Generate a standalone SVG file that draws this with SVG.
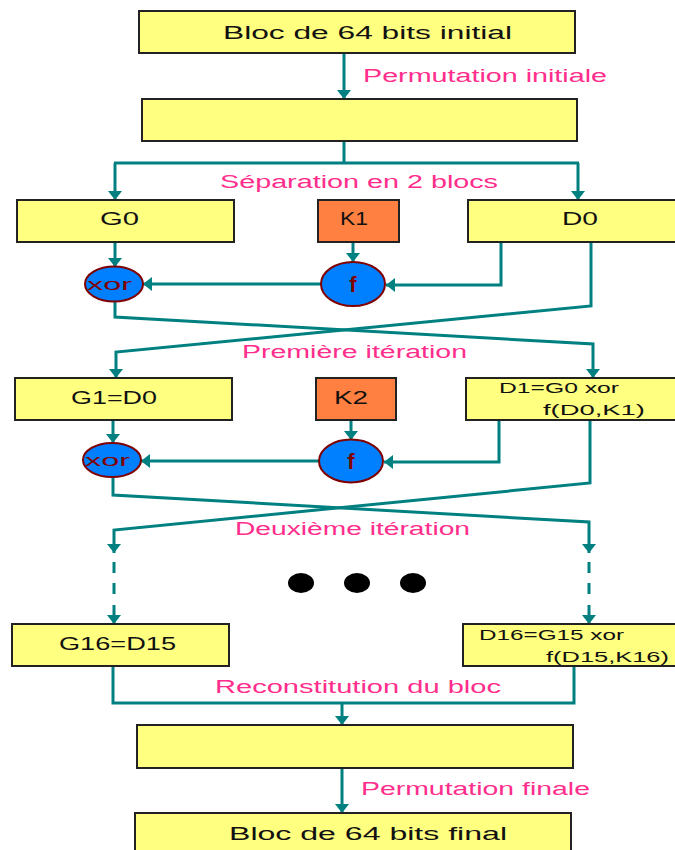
<svg xmlns="http://www.w3.org/2000/svg" width="675" height="850" viewBox="0 0 675 850">
  <style>
    .blk { fill: #FFFF80; stroke: #222; stroke-width: 2; }
    .key { fill: #FF8040; stroke: #222; stroke-width: 2; }
    .op { fill: #0080FF; stroke: #800000; stroke-width: 2; }
    .lbl { font-family: "Liberation Sans", "DejaVu Sans", sans-serif; font-size: 18px; fill: #111; }
    .sm { font-size: 15px; }
    .opt { font-family: "Liberation Sans", "DejaVu Sans", sans-serif; fill: #800000; }
    .step { font-family: "Liberation Sans", Arial, sans-serif; font-size: 18px; fill: #FF2D8C; }
    .wire { fill: none; stroke: #008080; stroke-width: 3; }
    .arr { marker-end: url(#head); }
    .dash { stroke-dasharray: 11 10; }
  </style>
  <defs>
    <marker id="head" viewBox="0 0 9 14" refX="9" refY="7" markerWidth="9" markerHeight="14" markerUnits="userSpaceOnUse" orient="auto">
      <path d="M0,0 L9,7 L0,14 z" fill="#008080"/>
    </marker>
  </defs>

  <rect width="675" height="850" fill="#fff"/>

  <!-- connectors -->
  <g id="connectors">
    <path class="wire arr" d="M344,53 V99"/>
    <path class="wire" d="M344,141 V163 M114,163 H579"/>
    <path class="wire arr" d="M115,163 V200"/>
    <path class="wire arr" d="M578,163 V200"/>

    <!-- round 1 -->
    <path class="wire arr" d="M115,242 V267"/>
    <path class="wire arr" d="M353,242 V262"/>
    <path class="wire arr" d="M501,242 V285 H386"/>
    <path class="wire arr" d="M321,284 H143"/>
    <path class="wire arr" d="M591,242 V306 L116,352 V378"/>
    <path class="wire arr" d="M115,302 V317 L593,344 V378"/>

    <!-- round 2 -->
    <path class="wire arr" d="M113,420 V443"/>
    <path class="wire arr" d="M351,420 V440"/>
    <path class="wire arr" d="M499,420 V462 H384"/>
    <path class="wire arr" d="M319,461 H141"/>
    <path class="wire arr" d="M590,420 V483 L114,530 V553"/>
    <path class="wire arr" d="M113,477 V495 L589,522 V553"/>

    <!-- elided rounds -->
    <path class="wire dash" d="M114,562 V598 M589,562 V598"/>
    <path class="wire arr" d="M114,605 V624"/>
    <path class="wire arr" d="M589,605 V624"/>

    <!-- recombination -->
    <path class="wire" d="M113,666 V703 H574 V666"/>
    <path class="wire arr" d="M342,702 V725"/>
    <path class="wire arr" d="M342,768 V813"/>
  </g>

  <!-- step labels -->
  <g id="step-labels">
    <text class="step" x="363" y="82" textLength="244" lengthAdjust="spacingAndGlyphs">Permutation initiale</text>
    <text class="step" x="220" y="188" textLength="278" lengthAdjust="spacingAndGlyphs">Séparation en 2 blocs</text>
    <text class="step" x="242" y="358" textLength="225" lengthAdjust="spacingAndGlyphs">Première itération</text>
    <text class="step" x="235" y="535" textLength="235" lengthAdjust="spacingAndGlyphs">Deuxième itération</text>
    <text class="step" x="215" y="693" textLength="286" lengthAdjust="spacingAndGlyphs">Reconstitution du bloc</text>
    <text class="step" x="361" y="795" textLength="229" lengthAdjust="spacingAndGlyphs">Permutation finale</text>
  </g>

  <!-- nodes -->
  <g id="bloc-initial">
    <rect class="blk" x="139" y="11" width="436" height="42"/>
    <text class="lbl" x="223" y="39" textLength="289" lengthAdjust="spacingAndGlyphs">Bloc de 64 bits initial</text>
  </g>
  <g id="bloc-permute">
    <rect class="blk" x="142" y="99" width="435" height="42"/>
  </g>

  <g id="g0">
    <rect class="blk" x="17" y="200" width="217" height="42"/>
    <text class="lbl" x="100" y="225" textLength="39" lengthAdjust="spacingAndGlyphs">G0</text>
  </g>
  <g id="k1">
    <rect class="key" x="318" y="200" width="81" height="42"/>
    <text class="lbl" x="340" y="225" textLength="28" lengthAdjust="spacingAndGlyphs">K1</text>
  </g>
  <g id="d0">
    <rect class="blk" x="468" y="200" width="215" height="42"/>
    <text class="lbl" x="562" y="225" textLength="36" lengthAdjust="spacingAndGlyphs">D0</text>
  </g>
  <g id="xor1">
    <ellipse class="op" cx="114" cy="284" rx="29" ry="17.5"/>
    <text class="opt" x="87" y="290" font-size="17" textLength="45" lengthAdjust="spacingAndGlyphs">xor</text>
  </g>
  <g id="f1">
    <ellipse class="op" cx="353" cy="284" rx="32" ry="22"/>
    <text class="opt" x="353" y="292" font-size="22" font-weight="bold" text-anchor="middle">f</text>
  </g>

  <g id="g1">
    <rect class="blk" x="15" y="378" width="217" height="42"/>
    <text class="lbl" x="71" y="404" textLength="86" lengthAdjust="spacingAndGlyphs">G1=D0</text>
  </g>
  <g id="k2">
    <rect class="key" x="316" y="378" width="80" height="42"/>
    <text class="lbl" x="334" y="404" textLength="34" lengthAdjust="spacingAndGlyphs">K2</text>
  </g>
  <g id="d1">
    <rect class="blk" x="466" y="378" width="217" height="42"/>
    <text class="lbl sm" x="499" y="393" textLength="120" lengthAdjust="spacingAndGlyphs">D1=G0 xor</text>
    <text class="lbl sm" x="543" y="415" textLength="102" lengthAdjust="spacingAndGlyphs">f(D0,K1)</text>
  </g>
  <g id="xor2">
    <ellipse class="op" cx="112" cy="460" rx="29" ry="17"/>
    <text class="opt" x="85" y="466" font-size="17" textLength="45" lengthAdjust="spacingAndGlyphs">xor</text>
  </g>
  <g id="f2">
    <ellipse class="op" cx="351" cy="461" rx="32" ry="21.5"/>
    <text class="opt" x="351" y="469" font-size="22" font-weight="bold" text-anchor="middle">f</text>
  </g>

  <g id="ellipsis">
    <ellipse cx="301" cy="583" rx="13" ry="10" fill="#000"/>
    <ellipse cx="357" cy="583" rx="13" ry="10" fill="#000"/>
    <ellipse cx="413" cy="583" rx="13" ry="10" fill="#000"/>
  </g>

  <g id="g16">
    <rect class="blk" x="12" y="624" width="217" height="42"/>
    <text class="lbl" x="59" y="650" textLength="117" lengthAdjust="spacingAndGlyphs">G16=D15</text>
  </g>
  <g id="d16">
    <rect class="blk" x="463" y="624" width="220" height="42"/>
    <text class="lbl sm" x="479" y="640" textLength="145" lengthAdjust="spacingAndGlyphs">D16=G15 xor</text>
    <text class="lbl sm" x="546" y="662" textLength="123" lengthAdjust="spacingAndGlyphs">f(D15,K16)</text>
  </g>

  <g id="bloc-reconstitue">
    <rect class="blk" x="137" y="725" width="436" height="43"/>
  </g>
  <g id="bloc-final">
    <rect class="blk" x="135" y="813" width="436" height="50"/>
    <text class="lbl" x="229" y="840" textLength="278" lengthAdjust="spacingAndGlyphs">Bloc de 64 bits final</text>
  </g>
</svg>
